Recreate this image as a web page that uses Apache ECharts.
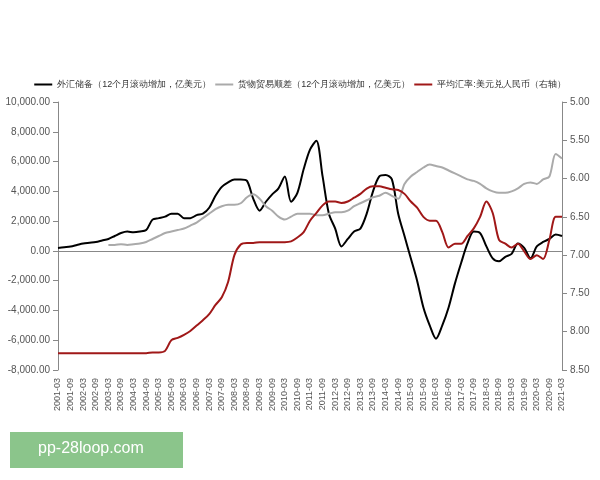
<!DOCTYPE html><html><head><meta charset="utf-8"><script src="https://cdn.jsdelivr.net/npm/echarts@6/dist/echarts.min.js"></script></head><body style="margin:0"><div id="c" style="width:600px;height:480px"></div><script>
const categories=[];for(let y=2001;y<=2021;y++){for(const m of ['03','06','09','12']){if(y===2021&&m!=='03')continue;categories.push(y+'-'+m);}}
const reserves=[200,250,300,400,500,550,600,700,800,1000,1200,1300,1250,1300,1400,2100,2200,2300,2500,2500,2200,2200,2400,2500,2900,3700,4300,4600,4800,4800,4700,3500,2700,3300,3800,4200,5000,3300,3900,5500,6800,7400,5000,2500,1500,300,800,1300,1500,2500,4000,5000,5100,4800,2500,1000,-500,-2000,-3800,-5000,-5900,-5000,-3800,-2200,-800,500,1300,1200,300,-500,-700,-400,-200,500,200,-500,300,600,800,1100,1000];
const trade=[null,null,null,null,null,null,null,null,400,400,450,400,450,500,600,800,1000,1200,1300,1400,1500,1700,1900,2200,2500,2800,3000,3100,3100,3200,3600,3800,3500,3000,2700,2300,2100,2300,2500,2500,2500,2400,2400,2500,2600,2600,2700,3000,3200,3400,3600,3700,3900,3700,3500,4500,5000,5300,5600,5800,5700,5600,5400,5200,5000,4800,4700,4500,4200,4000,3900,3900,4000,4200,4500,4600,4500,4800,5000,6500,6200];
const rate=[8.28,8.28,8.28,8.28,8.28,8.28,8.28,8.28,8.28,8.28,8.28,8.28,8.28,8.28,8.28,8.27,8.27,8.25,8.11,8.08,8.04,7.99,7.92,7.85,7.77,7.65,7.55,7.35,7.0,6.86,6.84,6.84,6.83,6.83,6.83,6.83,6.83,6.82,6.77,6.7,6.55,6.45,6.35,6.3,6.3,6.32,6.3,6.25,6.2,6.13,6.1,6.1,6.12,6.14,6.15,6.2,6.3,6.38,6.5,6.55,6.55,6.7,6.9,6.85,6.85,6.75,6.65,6.5,6.3,6.45,6.8,6.85,6.9,6.85,6.95,7.05,7.0,7.05,6.8,6.5,6.5];
const names=['外汇储备（12个月滚动增加，亿美元）','货物贸易顺差（12个月滚动增加，亿美元）','平均汇率:美元兑人民币（右轴）'];
const c=echarts.init(document.getElementById('c'));
const ax={axisLine:{show:true,lineStyle:{color:'#888'}},axisTick:{show:true,lineStyle:{color:'#888'}},splitLine:{show:false},axisLabel:{color:'#555',fontSize:10}};
c.setOption({animation:false,
legend:{top:75,left:'center',itemWidth:18,itemHeight:2,itemGap:4,icon:'rect',textStyle:{fontSize:9,color:'#333'},data:names},
grid:{left:58,right:38,top:102,bottom:110},
xAxis:{type:'category',data:categories,boundaryGap:false,...ax,axisTick:{show:false},axisLabel:{color:'#555',fontSize:9,rotate:90,interval:1}},
yAxis:[{type:'value',min:-8000,max:10000,interval:2000,...ax,axisLabel:{color:'#555',fontSize:10,formatter:v=>v.toLocaleString('en-US',{minimumFractionDigits:2})}},
{type:'value',min:5,max:8.5,interval:0.5,inverse:true,...ax,axisLabel:{color:'#555',fontSize:10,formatter:v=>v.toFixed(2)}}],
series:[{name:names[0],type:'line',data:reserves,symbol:'none',smooth:0.3,lineStyle:{color:'#000',width:2},itemStyle:{color:'#000'},z:3},
{name:names[1],type:'line',data:trade,symbol:'none',smooth:0.3,lineStyle:{color:'#aaa',width:2},itemStyle:{color:'#aaa'}},
{name:names[2],type:'line',yAxisIndex:1,data:rate,symbol:'none',smooth:0.3,lineStyle:{color:'#a01818',width:2},itemStyle:{color:'#a01818'}}],
graphic:[{type:'rect',left:10,top:432,shape:{width:173,height:36},style:{fill:'#8bc58b'}},{type:'text',left:38,top:441,style:{text:'pp-28loop.com',fill:'#fff',fontSize:16,fontFamily:'Arial'}}]});
</script></body></html>
